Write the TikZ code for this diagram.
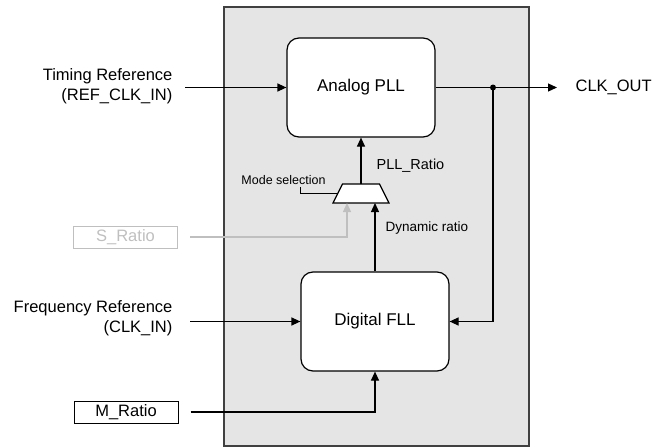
\documentclass[tikz,border=0pt]{standalone}
\usepackage{fontspec}
\setmainfont{Liberation Sans}
\usepackage{tikz}
\usetikzlibrary{arrows.meta, positioning, calc}
\definecolor{chipShade}{gray}{0.9}
\definecolor{chipEdge}{gray}{0.25}
\definecolor{offGray}{gray}{0.75}

\begin{document}
\begin{tikzpicture}[
    x=1pt, y=-1pt,
    line width=1.2pt,
    lbl/.style={font=\fontsize{16.5}{20.5}\selectfont, inner sep=0pt},
    small/.style={font=\fontsize{12.5}{15}\selectfont, inner sep=0pt},
    chip/.style={draw=chipEdge, fill=chipShade, line width=1.2pt, minimum width=305pt, minimum height=439pt, inner sep=0pt},
    block/.style={draw, fill=white, rounded corners=12pt, minimum width=148pt, minimum height=99pt, font=\fontsize{17}{20}\selectfont},
    regbox/.style={draw, line width=1pt, minimum width=104pt, minimum height=22pt, inner sep=0pt, font=\fontsize{16.5}{20}\selectfont},
    arrow/.style={-{Triangle[length=9pt, width=8pt]}},
    grayarrow/.style={arrow, draw=offGray}
  ]
  \useasboundingbox (0,0) rectangle (657,447);

  % Chip outline
  \node[chip] (chip) at (376.5,226.5) {};

  % Blocks
  \node[block] (pll) at (361,87.5) {Analog PLL};
  \node[block] (fll) at (375,321.5) {Digital FLL};

  % Ratio selector (trapezium)
  \coordinate (mux) at (361,193.5);
  \coordinate (mux-n) at ($(mux)+(0,-9.5)$);
  \coordinate (mux-s) at ($(mux)+(0,9.5)$);
  \coordinate (mux-w) at ($(mux)+(-23.25,0)$);
  \draw[fill=white] ($(mux)+(-28,9.5)$) -- ($(mux)+(-18.5,-9.5)$) -- ($(mux)+(18.5,-9.5)$) -- ($(mux)+(28,9.5)$) -- cycle;

  % Inputs
  \node[lbl, align=right, anchor=east] (tref) at (173,86) {Timing Reference\\(REF\_CLK\_IN)};
  \node[lbl, align=right, anchor=east] (fref) at (173,318) {Frequency Reference\\(CLK\_IN)};
  \node[regbox, draw=offGray, text=offGray] (sratio) at (125.5,237) {S\_Ratio};
  \node[regbox] (mratio) at (126,412) {M\_Ratio};

  % Output
  \node[lbl, anchor=west] (clkout) at (575,87.5) {CLK\_OUT};
  \coordinate (tap) at (493,87.5);

  % Mode selection
  \node[small] (msel) at (283.5,180) {Mode selection};

  % Connectors
  \draw[arrow] ([xshift=12pt]tref.east |- pll.west) -- (pll.west);
  \draw[arrow] ([xshift=17pt]fref.east |- fll.west) -- (fll.west);
  \draw[arrow] (pll.east) -- ([xshift=-18pt]clkout.west);
  \fill (tap) circle (3pt);
  \draw[arrow] (tap) |- (fll.east);
  \draw[arrow] (mux-n) -- node[small, font=\fontsize{14.5}{17}\selectfont, right, xshift=15pt, pos=0.4] {PLL\_Ratio} (pll.south);
  \draw[arrow] (fll.north) -- node[small, font=\fontsize{13.5}{16}\selectfont, right, xshift=10pt, pos=0.64] {Dynamic ratio} (fll.north |- mux-s);
  \draw[grayarrow] ([xshift=12pt]sratio.east) -| ([xshift=-14pt]mux-s);
  \draw[arrow] ([xshift=12pt]mratio.east) -| (fll.south);
  \draw[line width=1pt] ([xshift=16.5pt, yshift=-2pt]msel.south) |- (mux-w);

  \end{tikzpicture}
\end{document}
